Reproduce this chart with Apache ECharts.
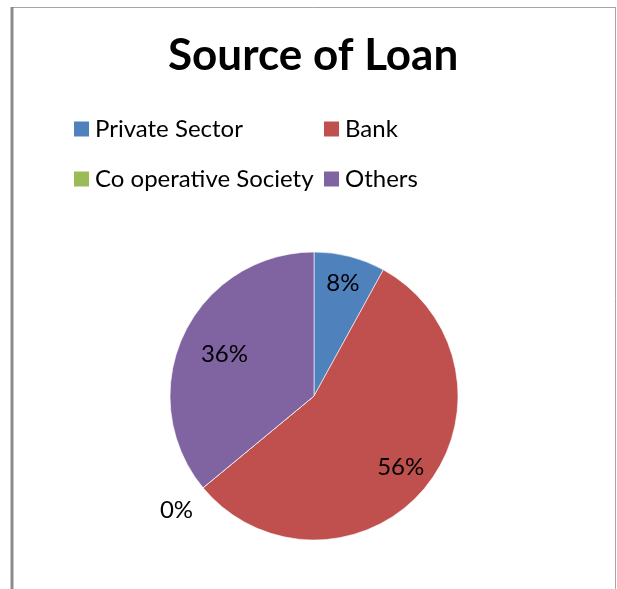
<!DOCTYPE html>
<html>
<head>
<meta charset="utf-8">
<script src="https://cdn.jsdelivr.net/npm/echarts@6/dist/echarts.min.js"></script>
<style>
  html, body { margin: 0; padding: 0; background: #fff; }
  #chart { width: 617px; height: 589px; }
</style>
</head>
<body>
<div id="chart"></div>
<script>
// Loan sources and their shares (percent)
const categories = ['Private Sector', 'Bank', 'Co operative Society', 'Others'];
const shares = [8, 56, 0, 36];
const colors = ['#4F81BD', '#C0504D', '#9BBB59', '#8064A2'];
// How far out each percentage label sits, relative to the default inside spot
const labelPush = [1.55, 1.5, 2.38, 1.32];

const FONT = 'Lato, "Open Sans", sans-serif';
const chart = echarts.init(document.getElementById('chart'), null, { renderer: 'canvas' });

const center = [314, 396];

chart.setOption({
  backgroundColor: '#ffffff',
  animation: false,
  graphic: [
    { type: 'line', shape: { x1: 12, y1: 7.5, x2: 615.5, y2: 7.5 }, style: { stroke: '#a6a6a6', lineWidth: 1 } },
    { type: 'line', shape: { x1: 615.5, y1: 7, x2: 615.5, y2: 600 }, style: { stroke: '#a6a6a6', lineWidth: 1 } },
    { type: 'line', shape: { x1: 12, y1: 7, x2: 12, y2: 600 }, style: { stroke: '#8c8c8c', lineWidth: 3 } }
  ],
  title: {
    text: 'Source of Loan',
    left: 168,
    top: 34,
    padding: 0,
    textStyle: { fontFamily: FONT, fontWeight: 'bold', fontSize: 44, color: '#000' }
  },
  legend: {
    left: 72,
    top: 108,
    padding: 0,
    width: 530,
    orient: 'horizontal',
    icon: 'rect',
    itemWidth: 17,
    itemHeight: 17,
    itemGap: 8,
    selectedMode: false,
    data: categories,
    textStyle: { fontFamily: FONT, fontSize: 24, color: '#000', width: 219, lineHeight: 42 }
  },
  series: [{
    type: 'pie',
    center: center,
    radius: 144,
    startAngle: 90,
    clockwise: true,
    avoidLabelOverlap: false,
    minShowLabelAngle: 0,
    itemStyle: { borderColor: '#ffffff', borderWidth: 0.6 },
    label: {
      show: true,
      position: 'inside',
      formatter: p => p.value + '%',
      fontFamily: FONT,
      fontSize: 24,
      color: '#000'
    },
    labelLine: { show: false },
    emphasis: { disabled: true },
    labelLayout: function (params) {
      const r = params.labelRect;
      const cx = r.x + r.width / 2;
      const cy = r.y + r.height / 2;
      const k = labelPush[params.dataIndex];
      return {
        x: center[0] + (cx - center[0]) * k,
        y: center[1] + (cy - center[1]) * k,
        align: 'center',
        verticalAlign: 'middle'
      };
    },
    data: categories.map((name, i) => ({
      name: name,
      value: shares[i],
      itemStyle: { color: colors[i] }
    }))
  }],
  color: colors
});
</script>
</body>
</html>
